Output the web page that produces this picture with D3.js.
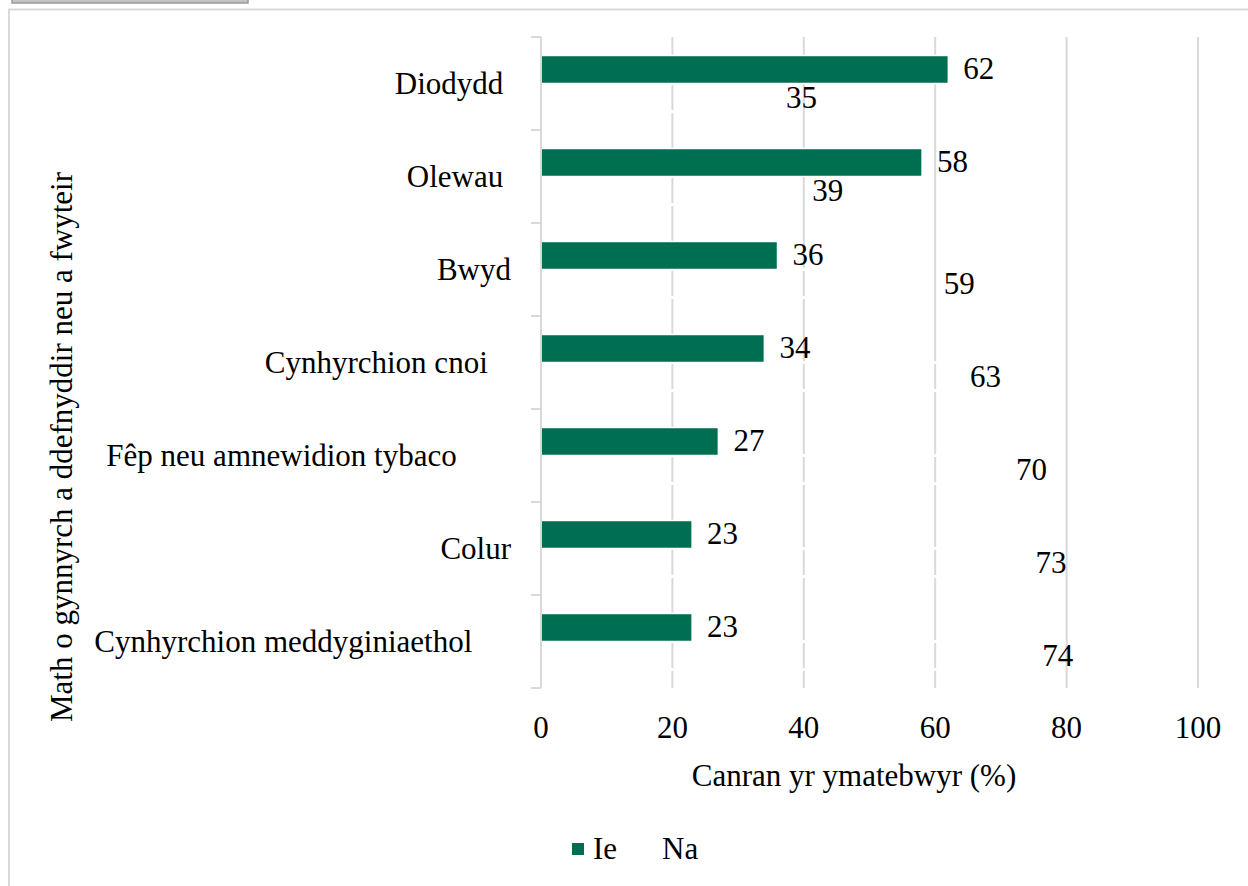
<!DOCTYPE html>
<html><head><meta charset="utf-8">
<script src="https://cdn.jsdelivr.net/npm/d3@7"></script>
<style>
html,body{margin:0;padding:0;background:#fff;}
svg{display:block;font-family:"Liberation Serif","Times New Roman",serif;}
text{white-space:pre;}
</style></head>
<body>
<svg id="chart" width="1248" height="886"></svg>
<script>
// ---- data ----
const categories = ["Diodydd ", "Olewau ", "Bwyd", "Cynhyrchion cnoi   ", "Fêp neu amnewidion tybaco       ", "Colur", "Cynhyrchion meddyginiaethol     "];
const seriesNames = ["Ie", "Na"];
const ieValues = [62, 58, 36, 34, 27, 23, 23];
const naValues = [35, 39, 59, 63, 70, 73, 74];
const xTicks = [0, 20, 40, 60, 80, 100];
const xTitle = "Canran yr ymatebwyr (%)";
const yTitle = "Math o gynnyrch a ddefnyddir neu a fwyteir";

const green = "#006f51";
const gridColor = "#d9d9d9";
const fontSize = 31;

const svg = d3.select("#chart");

// frame
svg.append("rect").attr("x", 9).attr("y", 9.5).attr("width", 1260).attr("height", 900)
  .attr("fill", "#fff").attr("stroke", "#d9d9d9").attr("stroke-width", 2);
svg.append("rect").attr("x", 12).attr("y", -4).attr("width", 236).attr("height", 7)
  .attr("fill", "#c4c4c4").attr("stroke", "#9a9a9a").attr("stroke-width", 1.5);

const x = d3.scaleLinear().domain([0, 100]).range([541, 1198]);
const y = d3.scaleBand().domain(categories).range([37, 688]).paddingInner(0).paddingOuter(0);
const ySub = d3.scaleBand().domain(seriesNames).range([0, y.bandwidth()]).paddingInner(0).paddingOuter(0.66);

const rows = categories.map((c, i) => ({cat: c, Ie: ieValues[i], Na: naValues[i]}));

// gridlines
svg.append("g").selectAll("line").data(xTicks.filter(t => t > 0)).join("line")
  .attr("x1", d => x(d)).attr("x2", d => x(d))
  .attr("y1", y.range()[0]).attr("y2", y.range()[1])
  .attr("stroke", gridColor).attr("stroke-width", 2);

// bars (Na drawn first: white outline only; Ie on top)
const barG = svg.append("g");
["Na", "Ie"].forEach(s => {
  barG.append("g").selectAll("rect").data(rows).join("rect")
    .attr("x", x(0))
    .attr("y", d => y(d.cat) + ySub(s))
    .attr("width", d => x(d[s]) - x(0))
    .attr("height", ySub.bandwidth())
    .attr("fill", s === "Ie" ? green : "none")
    .attr("stroke", "#ffffff")
    .attr("stroke-width", s === "Ie" ? 1.5 : 3);
});

// category axis line + ticks
const axG = svg.append("g");
axG.append("line").attr("x1", x(0)).attr("x2", x(0)).attr("y1", y.range()[0]).attr("y2", y.range()[1])
  .attr("stroke", gridColor).attr("stroke-width", 2);
const bounds = categories.map(c => y(c)).concat([y.range()[1]]);
axG.selectAll("line.tk").data(bounds).join("line").attr("class", "tk")
  .attr("x1", x(0) - 10).attr("x2", x(0)).attr("y1", d => d).attr("y2", d => d)
  .attr("stroke", gridColor).attr("stroke-width", 2);

// category labels
svg.append("g").selectAll("text").data(categories).join("text")
  .attr("x", 511).attr("y", d => y(d) + y.bandwidth() / 2 + 10)
  .attr("text-anchor", "end").attr("font-size", fontSize).attr("fill", "#000")
  .text(d => d);

// data labels
seriesNames.forEach(s => {
  svg.append("g").selectAll("text").data(rows).join("text")
    .attr("x", d => x(d[s]) + 15)
    .attr("y", d => y(d.cat) + ySub(s) + ySub.bandwidth() / 2 + 10)
    .attr("font-size", fontSize).attr("fill", "#000")
    .text(d => d[s]);
});

// x tick labels
svg.append("g").selectAll("text").data(xTicks).join("text")
  .attr("x", d => x(d)).attr("y", 738)
  .attr("text-anchor", "middle").attr("font-size", fontSize).attr("fill", "#000")
  .text(d => d);

// axis titles
svg.append("text").attr("x", 854).attr("y", 786).attr("text-anchor", "middle")
  .attr("font-size", fontSize).attr("fill", "#000").text(xTitle);
svg.append("text").attr("transform", "translate(72,447) rotate(-90)").attr("text-anchor", "middle")
  .attr("font-size", fontSize).attr("fill", "#000").text(yTitle);

// legend
const lg = svg.append("g");
lg.append("rect").attr("x", 572).attr("y", 843).attr("width", 12).attr("height", 12).attr("fill", green);
lg.append("text").attr("x", 593).attr("y", 859).attr("font-size", fontSize).attr("fill", "#000").text(seriesNames[0]);
lg.append("text").attr("x", 662).attr("y", 859).attr("font-size", fontSize).attr("fill", "#000").text(seriesNames[1]);
</script>
</body></html>
